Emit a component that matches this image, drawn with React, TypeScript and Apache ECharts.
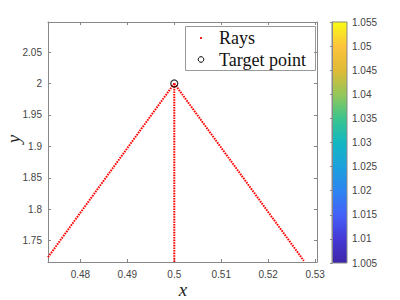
import React, { useEffect, useRef } from "react";
import * as echarts from "echarts";

const xTicks = [0.48, 0.49, 0.5, 0.51, 0.52, 0.53];
const yTicks = [1.75, 1.8, 1.85, 1.9, 1.95, 2, 2.05];
const rayLeft = [[0.4731, 1.7236], [0.5, 2]];
const rayMid = [[0.5, 1.7161], [0.5, 2]];
const rayRight = [[0.5, 2], [0.5276, 1.718]];
const targetPoint = [[0.5, 2]];
const parulaStops = [
  [0, "#3e26a8"], [0.1, "#4538d6"], [0.2, "#4561f9"], [0.3, "#2d85f0"],
  [0.4, "#1ba1dd"], [0.5, "#12b7c2"], [0.6, "#3bc58c"], [0.7, "#95c758"],
  [0.8, "#e0ba35"], [0.9, "#fcc43c"], [1, "#f9fb15"],
];

const fmt = (v: number) => String(+(+v).toFixed(3));
const axisColor = "#888";
const labelColor = "#444";

export default function App() {
  const ref = useRef<HTMLDivElement>(null);
  useEffect(() => {
    const chart = echarts.init(ref.current!, null, { renderer: "svg" });
    const rayStyle = { color: "#ff0000", width: 2, type: [1.6, 1] as any, cap: "butt" as any };
    const mkRay = (name: string, data: number[][]) => ({
      type: "line", name, data, xAxisIndex: 0, yAxisIndex: 0, symbol: "none",
      lineStyle: rayStyle, z: 2,
    });
    const baseX = {
      type: "value", gridIndex: 0, min: 0.4731, max: 0.5304,
      axisLine: { show: true, lineStyle: { color: axisColor } },
      splitLine: { show: false },
    };
    const baseY = {
      type: "value", gridIndex: 0, min: 1.7161, max: 2.0978,
      axisLine: { show: true, lineStyle: { color: axisColor } },
      splitLine: { show: false },
    };
    const nameFont = "italic 19px 'Liberation Serif'";
    chart.setOption({
      animation: false,
      backgroundColor: "#fff",
      grid: [
        { left: 48, top: 22, right: 83, bottom: 38, containLabel: false, outerBoundsMode: "none" },
        {
          left: 332, top: 22, width: 15, bottom: 37, show: true, containLabel: false, outerBoundsMode: "none",
          backgroundColor: new echarts.graphic.LinearGradient(0, 1, 0, 0,
            parulaStops.map(([o, c]) => ({ offset: o as number, color: c as string }))),
          borderColor: axisColor, borderWidth: 1,
        },
      ],
      xAxis: [
        {
          ...baseX, position: "bottom",
          axisTick: { show: true, inside: true, length: 3, customValues: xTicks, lineStyle: { color: axisColor } },
          axisLabel: { customValues: xTicks, formatter: fmt, color: labelColor, fontSize: 10, fontFamily: "Liberation Sans", margin: 7 },
        },
        {
          ...baseX, position: "top",
          axisTick: { show: true, inside: true, length: 3, customValues: xTicks, lineStyle: { color: axisColor } },
          axisLabel: { show: false },
        },
        { type: "value", gridIndex: 1, show: false, min: 0, max: 1 },
      ],
      yAxis: [
        {
          ...baseY, position: "left",
          axisTick: { show: true, inside: true, length: 3, customValues: yTicks, lineStyle: { color: axisColor } },
          axisLabel: { customValues: yTicks, formatter: fmt, color: labelColor, fontSize: 10, fontFamily: "Liberation Sans", margin: 6 },
        },
        {
          ...baseY, position: "right",
          axisTick: { show: true, inside: true, length: 3, customValues: yTicks, lineStyle: { color: axisColor } },
          axisLabel: { show: false },
        },
        {
          type: "value", gridIndex: 1, position: "right", min: 1.005, max: 1.055, interval: 0.005,
          axisLine: { show: true, lineStyle: { color: axisColor } },
          splitLine: { show: false },
          axisTick: { show: true, inside: true, length: 2, lineStyle: { color: axisColor } },
          axisLabel: { formatter: fmt, color: labelColor, fontSize: 10, fontFamily: "Liberation Sans", margin: 5 },
        },
      ],
      series: [
        mkRay("Rays", rayLeft),
        mkRay("Rays", rayMid),
        mkRay("Rays", rayRight),
        {
          type: "scatter", name: "Target point", data: targetPoint, xAxisIndex: 0, yAxisIndex: 0,
          symbol: "circle", symbolSize: 7, z: 5,
          itemStyle: { color: "rgba(0,0,0,0)", borderColor: "#000", borderWidth: 1.3 },
        },
      ],
      graphic: [
        { type: "text", x: 183, y: 289, style: { text: "x", font: nameFont, fill: "#222", align: "center", verticalAlign: "middle" } },
        { type: "text", x: 13, y: 139, rotation: Math.PI / 2, style: { text: "y", font: nameFont, fill: "#222", align: "center", verticalAlign: "middle" } },
        {
          type: "group", z: 100,
          children: [
            { type: "rect", shape: { x: 185.5, y: 26.5, width: 130, height: 44 }, style: { fill: "#fff", stroke: "#999", lineWidth: 1 } },
            { type: "circle", shape: { cx: 201, cy: 38, r: 1.1 }, style: { fill: "#ff0000" } },
            { type: "circle", shape: { cx: 201, cy: 59.5, r: 2.8 }, style: { fill: "none", stroke: "#000", lineWidth: 1 } },
            { type: "text", x: 219, y: 38, style: { text: "Rays", font: "18px 'Liberation Serif'", fill: "#111", verticalAlign: "middle" } },
            { type: "text", x: 219, y: 59.5, style: { text: "Target point", font: "18px 'Liberation Serif'", fill: "#111", verticalAlign: "middle" } },
          ],
        },
      ],
    });
    return () => chart.dispose();
  }, []);
  return <div ref={ref} style={{ width: 400, height: 300, position: "absolute", left: 0, top: 0 }} />;
}
